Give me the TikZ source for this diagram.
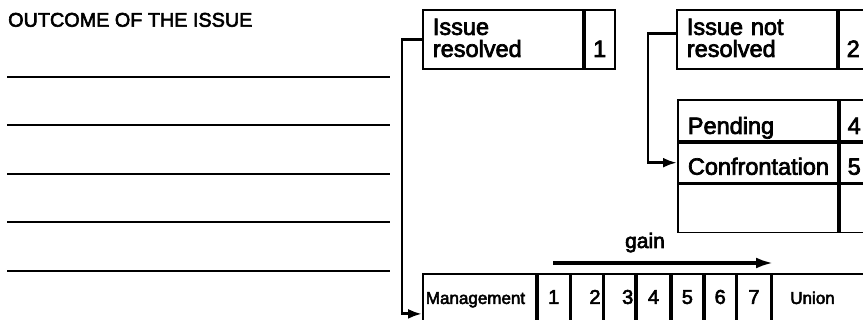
\documentclass[tikz,border=0pt]{standalone}
\usepackage{fontspec}
\setmainfont{Liberation Sans}[FakeBold=3]
\usepackage{tikz}
\usetikzlibrary{arrows.meta, positioning, calc}

\begin{document}
\begin{tikzpicture}[x=1pt, y=-1pt,
  cell/.style={draw, line width=1.8pt, rectangle, anchor=north west, inner xsep=0pt, inner ysep=0pt},
  boxtext/.style={font=\fontsize{23.5}{22}\selectfont, text width=140pt, align=left, inner xsep=10pt},
  numtext/.style={font=\fontsize{23.5}{22}\selectfont},
  scaletext/.style={font=\fontsize{17}{19}\selectfont, text height=30pt, text depth=50pt},
  scalenum/.style={font=\fontsize{20}{22}\selectfont, text height=30pt, text depth=50pt},
  conn/.style={line width=2.8pt, -{Latex[length=14pt, width=10pt]}},
  ]
  \useasboundingbox (0,0) rectangle (863,320);
  \clip (0,0) rectangle (863,320);

  % form on the left
  \node[anchor=base west, inner sep=0pt, font=\fontsize{19.8}{22}\selectfont] (title) at (8,26.7) {OUTCOME OF THE ISSUE};
  \draw[line width=2.2pt] (7,77) -- (390,77) (7,125) -- (390,125) (7,174) -- (390,174)
    (7,222) -- (390,222) (7,271) -- (390,271);

  % first split
  \node[cell, boxtext, minimum width=160pt, text height=25pt, text depth=34pt] (res) at (422,9) {Issue\\resolved};
  \node[cell, numtext, right=0pt of res, minimum width=30pt, text height=47pt, text depth=12pt] (res1) {1};
  \node[cell, boxtext, minimum width=160pt, text height=25pt, text depth=34pt] (nres) at (676,9) {Issue not\\resolved};
  \node[cell, numtext, right=0pt of nres, minimum width=50pt, text width=34pt, align=left, inner xsep=8pt,
    text height=47pt, text depth=12pt] (nres2) {2};

  % not resolved
  \node[cell, boxtext, minimum width=160pt, text height=34pt, text depth=7pt] (pend) at (677,99) {Pending};
  \node[cell, numtext, right=0pt of pend, minimum width=46pt, text width=30pt, align=left, inner xsep=8pt,
    text height=34pt, text depth=7pt] (pend4) {4};
  \node[cell, boxtext, below=0pt of pend, minimum width=160pt, text height=32pt, text depth=8pt] (conf) {Confrontation};
  \node[cell, numtext, right=0pt of conf, minimum width=46pt, text width=30pt, align=left, inner xsep=8pt,
    text height=32pt, text depth=8pt] (conf5) {5};
  \node[cell, below=0pt of conf, minimum width=160pt, minimum height=48pt] (blank) {};
  \node[cell, right=0pt of blank, minimum width=46pt, minimum height=48pt] (blankno) {};

  % resolved: the scale
  \node[cell, scaletext, minimum width=113pt, text width=107pt, align=left, inner xsep=3pt] (mgmt) at (422,273) {Management};
  \node[cell, scalenum, right=0pt of mgmt, minimum width=32pt] (s1) {1};
  \node[cell, scalenum, right=0pt of s1, minimum width=31pt, text width=27pt, align=right] (s2) {2};
  \node[cell, scalenum, right=0pt of s2, minimum width=31pt, text width=27pt, align=right] (s3) {3};
  \node[cell, scalenum, right=0pt of s3, minimum width=33pt] (s4) {4};
  \node[cell, scalenum, right=0pt of s4, minimum width=31pt] (s5) {5};
  \node[cell, scalenum, right=0pt of s5, minimum width=31pt] (s6) {6};
  \node[cell, scalenum, right=0pt of s6, minimum width=33pt] (s7) {7};
  \node[cell, scaletext, right=0pt of s7, minimum width=120pt, text width=100pt, align=left, inner xsep=18pt] (union) {Union};

  % gain
  \node[anchor=base, inner sep=0pt, font=\fontsize{21}{22}\selectfont] (gain) at (645,248) {gain};
  \coordinate (g0) at (553,263);
  \coordinate (g1) at (773,263);
  \draw[line width=3.2pt, -{Latex[length=17pt, width=11pt]}] (g0) -- (g1);

  % connectors
  \draw[conn] (res.west) -- ++(-20,0) |- (mgmt.west);
  \draw[conn] ([yshift=5.5pt]nres.west) -- ++(-28,0) |- (conf.west);
\end{tikzpicture}
\end{document}
